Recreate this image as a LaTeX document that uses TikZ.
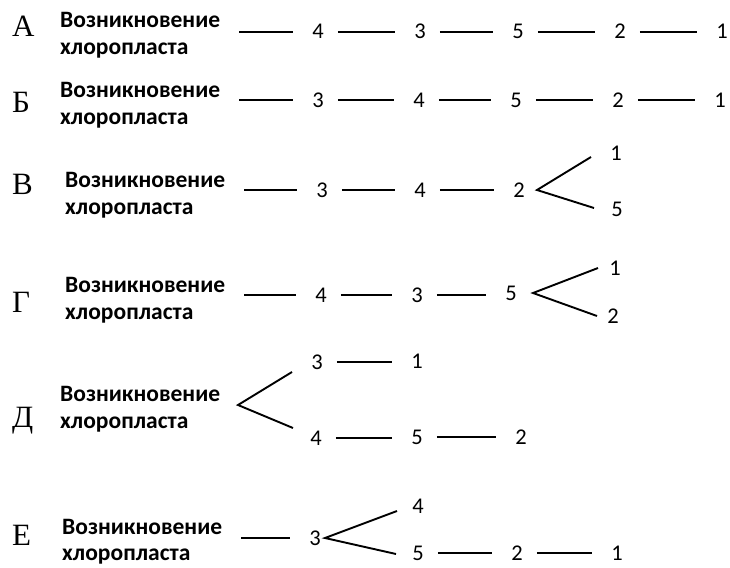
\documentclass[tikz,border=0pt]{standalone}
\usepackage{fontspec}
\setmainfont{Carlito}
\newfontfamily\letterfont{Liberation Serif}
\tikzset{
  lab/.style={anchor=north west, align=left, inner sep=0pt,
    font=\bfseries\fontsize{23.5}{26.5}\selectfont},
  rowletter/.style={anchor=base west, inner sep=0pt,
    font=\letterfont\fontsize{31}{31}\selectfont},
  num/.style={inner sep=0pt, text height=14pt, text depth=0pt,
    font=\fontsize{22.5}{22.5}\selectfont},
  con/.style={line width=1.9pt, line cap=butt},
  link/.style={con, shorten <=14pt, shorten >=19pt},
  firstlink/.style={con, shorten <=19pt, shorten >=19pt},
}
\begin{document}
\begin{tikzpicture}[x=1pt,y=-1pt]
\useasboundingbox (0,0) rectangle (730,567);
% ---------- Row A ----------
\node[rowletter] (LA) at (12,37) {А};
\node[lab] (labA) at (60,12.5) {Возникновение\\хлоропласта};
\node[num] (A4) at (318,32) {4};
\node[num] (A3) at (420,32) {3};
\node[num] (A5) at (518,32) {5};
\node[num] (A2) at (620,32) {2};
\node[num] (A1) at (722,32) {1};
\draw[firstlink] (labA.east |- A4) -- (A4.west);
\draw[link] (A4.east) -- (A3.west);
\draw[link] (A3.east) -- (A5.west);
\draw[link] (A5.east) -- (A2.west);
\draw[link] (A2.east) -- (A1.west);
% ---------- Row B ----------
\node[rowletter] (LB) at (12,113) {Б};
\node[lab] (labB) at (60,82.5) {Возникновение\\хлоропласта};
\node[num] (B3) at (318,100) {3};
\node[num] (B4) at (419,100) {4};
\node[num] (B5) at (516,100) {5};
\node[num] (B2) at (618,100) {2};
\node[num] (B1) at (720,100) {1};
\draw[firstlink] (labB.east |- B3) -- (B3.west);
\draw[link] (B3.east) -- (B4.west);
\draw[link] (B4.east) -- (B5.west);
\draw[link] (B5.east) -- (B2.west);
\draw[link] (B2.east) -- (B1.west);
% ---------- Row V ----------
\node[rowletter] (LV) at (12,194) {В};
\node[lab] (labV) at (65,172.5) {Возникновение\\хлоропласта};
\node[num] (V3) at (322,190) {3};
\node[num] (V4) at (420,190) {4};
\node[num] (V2) at (519,190) {2};
\node[num] (V1) at (616,153) {1};
\node[num] (V5) at (617,209) {5};
\draw[firstlink] (labV.east |- V3) -- (V3.west);
\draw[link] (V3.east) -- (V4.west);
\draw[link] (V4.east) -- (V2.west);
\coordinate (vV) at (537,190);
\coordinate (uV) at (591,157);
\coordinate (dV) at (594,208);
\draw[con] (uV) -- (vV) -- (dV);
% ---------- Row G ----------
\node[rowletter] (LG) at (12,312) {Г};
\node[lab] (labG) at (65,277.5) {Возникновение\\хлоропласта};
\node[num] (G4) at (321,295) {4};
\node[num] (G3) at (417,295) {3};
\node[num] (G5) at (511,293) {5};
\node[num] (G1) at (615,268) {1};
\node[num] (G2) at (613,316) {2};
\draw[firstlink] (labG.east |- G4) -- (G4.west);
\draw[link] (G4.east) -- (G3.west);
\draw[link] (G3.east) -- (G5.west |- G3);
\coordinate (vG) at (533,293);
\coordinate (uG) at (598,268);
\coordinate (dG) at (597,316);
\draw[con] (uG) -- (vG) -- (dG);
% ---------- Row D ----------
\node[rowletter] (LD) at (12,427) {Д};
\node[lab] (labD) at (60,386.5) {Возникновение\\хлоропласта};
\node[num] (D3) at (317,362) {3};
\node[num] (D1) at (417,361) {1};
\node[num] (D4) at (316,438) {4};
\node[num] (D5) at (417,437) {5};
\node[num] (D2) at (521,437) {2};
\coordinate (vD) at (238,405);
\coordinate (uD) at (292,372);
\coordinate (dD) at (293,428);
\draw[con] (uD) -- (vD) -- (dD);
\draw[link] (D3.east) -- (D1.west |- D3);
\draw[link] (D4.east) -- (D5.west |- D4);
\draw[link] (D5.east) -- (D2.west);
% ---------- Row E ----------
\node[rowletter] (LE) at (12,545) {Е};
\node[lab] (labE) at (62,519) {Возникновение\\хлоропласта};
\node[num] (E3) at (315,538) {3};
\node[num] (E4) at (418,506) {4};
\node[num] (E5) at (418,553) {5};
\node[num] (E2) at (517,553) {2};
\node[num] (E1) at (617,553) {1};
\draw[firstlink] (labE.east |- E3) -- (E3.west);
\coordinate (vE) at (325,538);
\coordinate (uE) at (397,511);
\coordinate (dE) at (396,554);
\draw[con] (uE) -- (vE) -- (dE);
\draw[link] (E5.east) -- (E2.west);
\draw[link] (E2.east) -- (E1.west);
\end{tikzpicture}
\end{document}
